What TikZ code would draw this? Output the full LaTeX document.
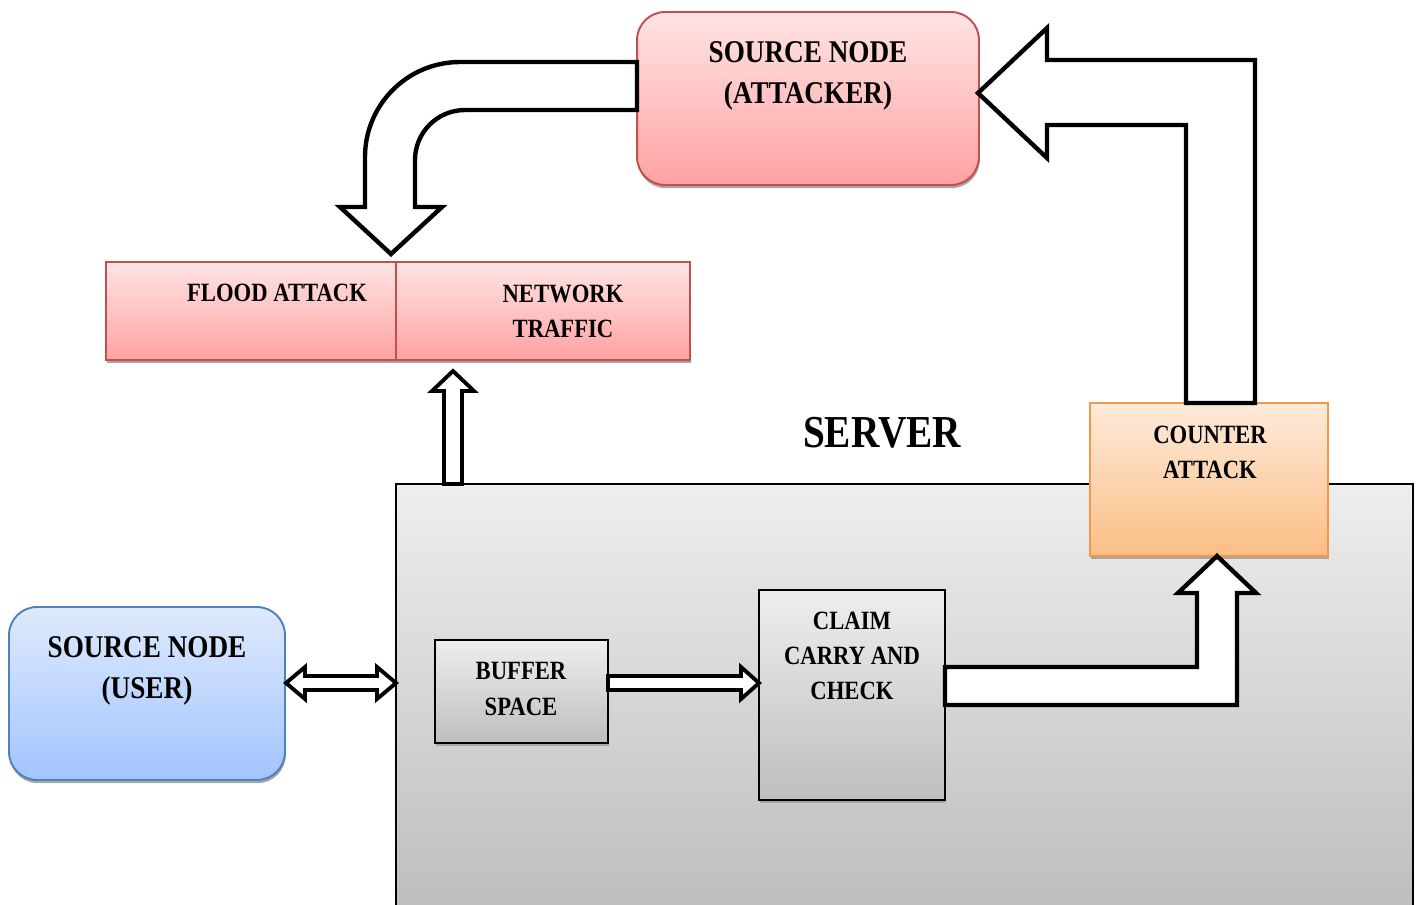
\documentclass[tikz,border=0pt]{standalone}
\usepackage{fontspec}
\newfontfamily\algfont[FakeStretch=0.86]{Liberation Serif}
\usetikzlibrary{shadows,positioning}

\definecolor{redtop}{RGB}{255,228,228}
\definecolor{redbot}{RGB}{255,162,162}
\definecolor{redline}{RGB}{192,80,77}
\definecolor{bluetop}{RGB}{222,234,252}
\definecolor{bluebot}{RGB}{162,196,254}
\definecolor{blueline}{RGB}{79,129,189}
\definecolor{orangetop}{RGB}{253,234,218}
\definecolor{orangebot}{RGB}{251,190,133}
\definecolor{orangeline}{RGB}{247,150,70}
\definecolor{greytop}{RGB}{238,238,238}
\definecolor{greybot}{RGB}{190,190,190}

\tikzset{
  shadowed/.style={drop shadow={shadow xshift=0.4pt, shadow yshift=-1.8pt, fill=gray!70, opacity=1}},
  redbox/.style={draw=redline, line width=1.1pt, top color=redtop, bottom color=redbot, shadowed},
  bluebox/.style={draw=blueline, line width=1.1pt, top color=bluetop, bottom color=bluebot, shadowed},
  orangebox/.style={draw=orangeline, line width=1.1pt, top color=orangetop, bottom color=orangebot, shadowed},
  greybox/.style={draw=black, line width=0.8pt, top color=greytop, bottom color=greybot},
  bigtext/.style={font=\algfont\bfseries\fontsize{18}{23}\selectfont, align=center, inner sep=0pt},
  midtext/.style={font=\algfont\bfseries\fontsize{15}{20}\selectfont, align=center, inner sep=0pt},
  blockarrow/.style={draw=black, fill=white, line width=2.5pt, line join=miter},
  thinarrow/.style={draw=black, fill=white, line width=2.2pt, line join=miter}
}

\begin{document}
\begin{tikzpicture}[x=0.02cm, y=-0.02cm]
  \useasboundingbox (0,0) rectangle (1416,904);

  % Server area
  \node[greybox, minimum width=20.34cm, minimum height=8.44cm] (server) at (904.5,695) {};
  \node[font=\algfont\bfseries\fontsize{26}{30}\selectfont, inner sep=0pt] (servertext) at (882,433) {SERVER};

  % Boxes
  \node[redbox, rounded corners=0.56cm, minimum width=6.84cm, minimum height=3.46cm] (attacker) at (808,98.5) {};
  \node[redbox, minimum width=5.8cm, minimum height=1.96cm] (flood) at (251,311) {};
  \node[redbox, minimum width=5.88cm, minimum height=1.96cm] (traffic) at (543,311) {};
  \node[bluebox, rounded corners=0.56cm, minimum width=5.52cm, minimum height=3.46cm] (user) at (147,693.5) {};
  \node[greybox, shadowed, minimum width=3.46cm, minimum height=2.06cm] (buffer) at (521.5,691.5) {};
  \node[greybox, shadowed, minimum width=3.72cm, minimum height=4.2cm] (claim) at (852,695) {};
  \node[orangebox, minimum width=4.76cm, minimum height=3.06cm] (counter) at (1209,479.5) {};

  % Labels
  \node[bigtext] (attackertext) at (808,76) {SOURCE NODE\\(ATTACKER)};
  \node[midtext] (floodtext) at (277,293) {FLOOD ATTACK};
  \node[midtext] (traffictext) at (563,311) {NETWORK\\TRAFFIC};
  \node[bigtext] (usertext) at (147,671) {SOURCE NODE\\(USER)};
  \node[midtext] (buffertext) at (521,689) {BUFFER\\SPACE};
  \node[midtext] (claimtext) at (852,656) {CLAIM\\CARRY AND\\CHECK};
  \node[midtext] (countertext) at (1210,452) {COUNTER\\ATTACK};

  % Attacker to flood attack (bent arrow)
  \draw[blockarrow] (637,62) -- (460,62) arc[start angle=270, end angle=180, radius=95]
    -- (365,207) -- (340,207) -- (391,254) -- (442,207) -- (415,207) -- (415,160)
    arc[start angle=180, end angle=270, radius=50] -- (637,110) -- cycle;

  % Counter attack back to attacker
  \draw[blockarrow] (1186,403) -- (1186,125) -- (1047,125) -- (1047,158) -- (978,93)
    -- (1047,28) -- (1047,60) -- (1255,60) -- (1255,403) -- cycle;

  % Server to network traffic
  \draw[thinarrow] (444,484) -- (444,391) -- (432,391) -- (453,371) -- (474,391)
    -- (462,391) -- (462,484) -- cycle;

  % User <-> server
  \draw[thinarrow] (286,683) -- (305,667) -- (305,676) -- (377,676) -- (377,667) -- (396,683)
    -- (377,699) -- (377,690) -- (305,690) -- (305,699) -- cycle;

  % Buffer to claim
  \draw[thinarrow] (608,676) -- (741,676) -- (741,667) -- (759,683) -- (741,699)
    -- (741,690) -- (608,690) -- cycle;

  % Claim to counter attack
  \draw[blockarrow] (945,667) -- (1197,667) -- (1197,593) -- (1178,593) -- (1217,556)
    -- (1256,593) -- (1237,593) -- (1237,705) -- (945,705) -- cycle;
\end{tikzpicture}
\end{document}
